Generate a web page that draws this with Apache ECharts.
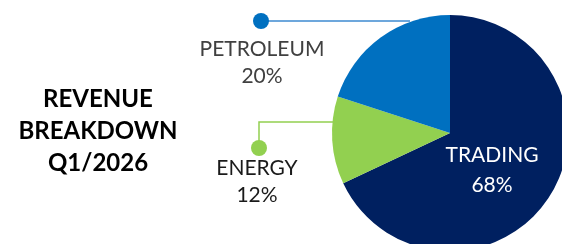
<!DOCTYPE html>
<html>
<head>
    <meta charset="utf-8">
    <title>Revenue Breakdown Q1/2026</title>
    <script src="https://cdn.jsdelivr.net/npm/echarts@6/dist/echarts.min.js"></script>
    <style>
        html, body { margin: 0; padding: 0; background: #fff; }
        #chart { width: 562px; height: 244px; }
    </style>
</head>
<body>
    <div id="chart"></div>

    <script type="text/javascript">
       // data
       var categories = ['TRADING', 'ENERGY', 'PETROLEUM'];
       var shares = [68, 12, 20];
       var colors = ['#002060', '#92D050', '#0070C0'];
       var labelColors = ['#ffffff', '#1a1a1a', '#404040'];

       var FONT = 'Lato, "Noto Sans", sans-serif';

       // where each label sits, and the leader line (edge -> elbow -> dot)
       var layouts = [
           { x: 492, y: 170, line: null },
           { x: 257, y: 182, line: [[333, 122], [259, 122], [259, 148]] },
           { x: 262, y: 63,  line: [[410, 21], [261, 21], [261, 21]] }
       ];

       var myChart = echarts.init(document.getElementById('chart'));

       var pieData = categories.map(function (name, i) {
           return {
               name: name,
               value: shares[i],
               itemStyle: { color: colors[i] },
               label: {
                   color: labelColors[i],
                   position: i === 0 ? 'inside' : 'outside',
                   lineHeight: i === 0 ? 30 : 27
               },
               labelLine: {
                   show: i !== 0,
                   lineStyle: { color: i === 2 ? '#3d8ad0' : colors[i], width: 1.5 }
               }
           };
       });

       var option = {
           animation: false,
           title: {
               text: 'REVENUE\nBREAKDOWN\nQ1/2026',
               left: 93,
               top: 78,
               textAlign: 'center',
               textStyle: {
                   fontFamily: FONT,
                   fontWeight: 'bold',
                   fontSize: 24,
                   lineHeight: 32,
                   color: '#000'
               }
           },
           graphic: [
               { type: 'circle', shape: { cx: 261, cy: 21, r: 8 }, style: { fill: colors[2] }, z: 10 },
               { type: 'circle', shape: { cx: 259, cy: 148, r: 8 }, style: { fill: colors[1] }, z: 10 }
           ],
           series: [{
               type: 'pie',
               center: [450, 133],
               radius: 118,
               startAngle: 90,
               clockwise: true,
               percentPrecision: 0,
               avoidLabelOverlap: false,
               silent: true,
               data: pieData,
               label: {
                   show: true,
                   formatter: '{b}\n{d}%',
                   fontFamily: FONT,
                   fontSize: 21,
                   lineHeight: 27
               },
               labelLine: { show: true, smooth: false },
               labelLayout: function (params) {
                   var l = layouts[params.dataIndex];
                   var res = { x: l.x, y: l.y, align: 'center', verticalAlign: 'middle' };
                   if (l.line) res.labelLinePoints = l.line;
                   return res;
               }
           }]
       };

       myChart.setOption(option);
    </script>
</body>
</html>
